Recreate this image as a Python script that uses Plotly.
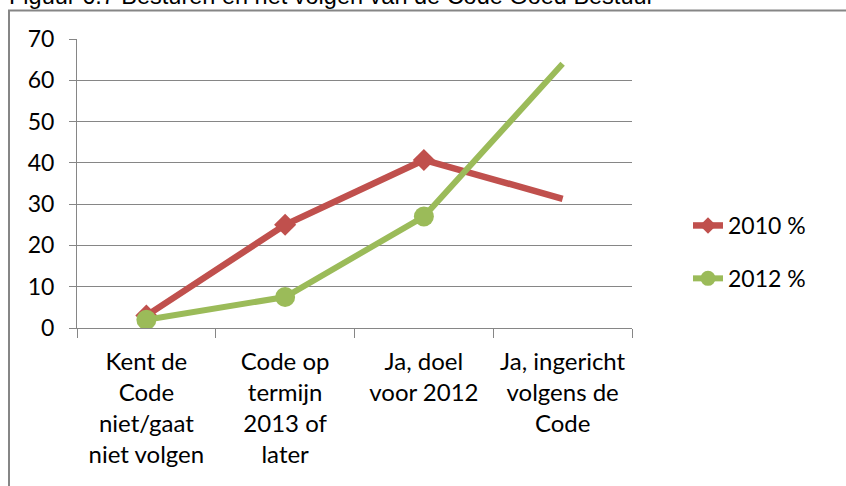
import plotly.graph_objects as go

categories = [
    "Kent de<br>Code<br>niet/gaat<br>niet volgen",
    "Code op<br>termijn<br>2013 of<br>later",
    "Ja, doel<br>voor 2012",
    "Ja, ingericht<br>volgens de<br>Code",
]
values_2010 = [3, 25, 40.7, 31.3]
values_2012 = [2, 7.5, 27, 64]
marker_2010 = [17, 17, 17, 0]
marker_2012 = [20, 20, 20, 0]
y_ticks = [0, 10, 20, 30, 40, 50, 60, 70]
title_text = "Figuur 6.7 Besturen en het volgen van de Code Goed Bestuur"

RED = "#C0504D"
GREEN = "#9BBB59"
GRID = "#868686"
FONT = "Lato"

fig = go.Figure()
fig.add_trace(go.Scatter(
    x=categories, y=values_2010, name="2010 %", mode="lines+markers",
    line=dict(color=RED, width=6.5),
    marker=dict(symbol="diamond", size=marker_2010, color=RED, opacity=1, line=dict(width=0)),
    opacity=1, legendgroup="a",
))
fig.add_trace(go.Scatter(
    x=categories, y=values_2012, name="2012 %", mode="lines+markers",
    line=dict(color=GREEN, width=6),
    marker=dict(symbol="circle", size=marker_2012, color=GREEN, opacity=1, line=dict(width=0)),
    opacity=1, legendgroup="b",
))

L, R, T, B = 77, 214, 39, 158
W, H = 846, 486
pw, ph = W - L - R, H - T - B

def px_x(px):
    return (px - L) / pw

def px_y(py):
    return (H - B - py) / ph

fig.update_layout(
    width=W, height=H,
    margin=dict(l=L, r=R, t=T, b=B, pad=0, autoexpand=False),
    paper_bgcolor="white", plot_bgcolor="white",
    font=dict(family=FONT, size=23, color="#000000"),
    showlegend=True,
    legend=dict(
        xref="container", yref="container",
        x=688 / W, y=1 - 252 / H, xanchor="left", yanchor="middle",
        traceorder="grouped", tracegroupgap=20,
        font=dict(family=FONT, size=23, color="#000000"),
        bgcolor="rgba(0,0,0,0)", borderwidth=0,
    ),
    xaxis=dict(
        type="category", range=[-0.5, len(categories) - 0.5],
        showgrid=False, showline=True, linecolor=GRID, linewidth=1,
        ticks="outside", ticklen=9, tickcolor=GRID, tickwidth=1,
        tickson="boundaries", ticklabelstandoff=12,
        tickfont=dict(family=FONT, size=24, color="#000000"),
        fixedrange=True, automargin=False,
    ),
    yaxis=dict(
        range=[0, 70], tickvals=y_ticks, showgrid=True, gridcolor=GRID, gridwidth=1,
        showline=True, linecolor=GRID, linewidth=1,
        ticks="outside", ticklen=7, tickcolor=GRID, tickwidth=1,
        ticklabelstandoff=10,
        tickfont=dict(family=FONT, size=23, color="#000000"),
        zeroline=False, fixedrange=True, automargin=False,
    ),
    annotations=[dict(
        text=title_text, xref="paper", yref="paper",
        x=px_x(7), y=px_y(11), xanchor="left", yanchor="bottom",
        showarrow=False, font=dict(family="Liberation Sans", size=23.5, color="#000000"),
    )],
    shapes=[
        dict(type="line", xref="paper", yref="paper",
             x0=px_x(9), x1=px_x(9), y0=px_y(10.5), y1=px_y(600),
             line=dict(color=GRID, width=2)),
        dict(type="line", xref="paper", yref="paper",
             x0=px_x(8), x1=px_x(900), y0=px_y(10.5), y1=px_y(10.5),
             line=dict(color=GRID, width=2)),
    ],
)

fig.write_html(
    "out.html",
    config={"displayModeBar": False},
    post_script="document.body.style.margin='0';document.body.style.overflow='hidden';",
)
